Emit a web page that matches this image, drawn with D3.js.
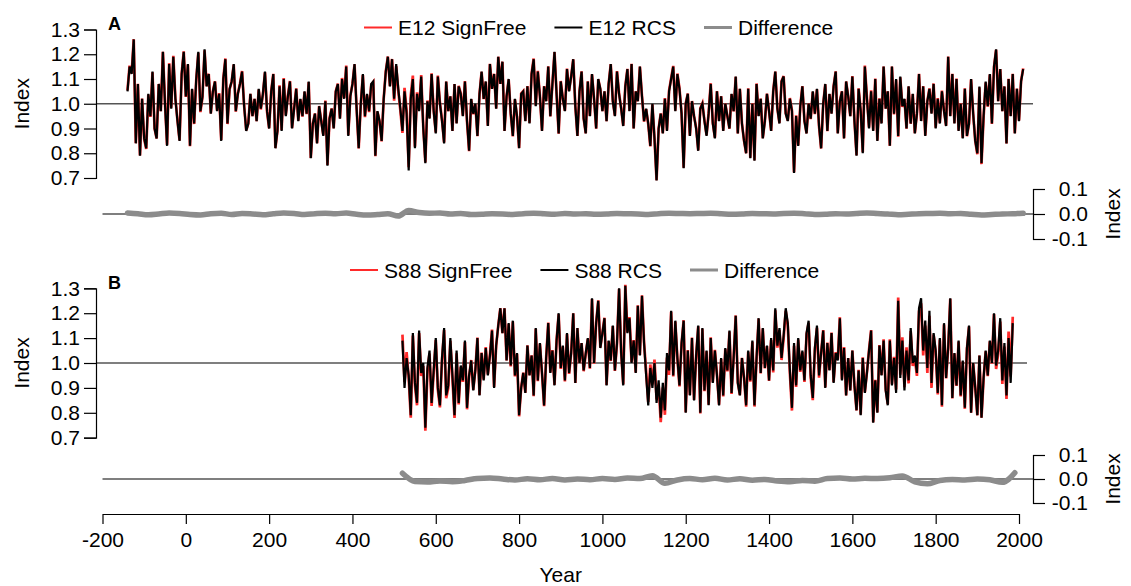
<!DOCTYPE html>
<html>
<head>
<meta charset="utf-8">
<script src="https://cdn.jsdelivr.net/npm/d3@7"></script>
<style>
  body { margin: 0; background: #fff; }
  text { font-family: "Liberation Sans", Arial, sans-serif; }
</style>
</head>
<body>
<div id="container"></div>
<script>
/* CONSTANTS AND GLOBALS */
const width = 1131;
const height = 586;
const fontSize = 21;

/* DATA */
// E12 RCS, every 5 years from -140 to 2010
const startA = -140;
const rcsA = [
  1.05,1.15,1.12,1.26,0.84,1.08,0.79,1.02,0.86,0.82,
  1.04,0.95,1.13,0.90,0.86,1.08,0.97,1.21,1.00,0.83,
  1.16,0.98,1.19,1.02,0.93,0.85,1.12,1.21,1.03,1.16,
  0.83,1.06,0.92,1.10,1.21,0.97,1.03,1.22,1.07,1.12,
  0.96,1.05,1.09,0.97,1.04,0.85,1.10,1.18,0.92,1.06,
  1.09,1.16,0.97,1.04,1.08,1.13,0.99,0.89,0.92,1.04,
  0.95,1.02,0.93,1.06,0.98,1.04,1.13,0.97,0.90,1.05,
  1.12,0.82,0.89,1.07,0.89,1.10,0.95,1.03,1.09,0.90,
  0.98,1.06,0.93,1.02,0.95,1.05,0.96,1.09,0.78,0.92,
  0.96,0.84,0.99,0.93,0.87,1.01,0.75,0.94,0.98,0.90,
  1.05,1.08,0.94,1.10,1.02,1.15,0.87,1.03,1.08,1.16,
  0.98,0.82,1.00,1.12,0.95,1.04,0.97,1.08,1.09,0.79,
  0.97,0.93,0.85,1.02,1.13,1.19,1.07,1.18,1.02,1.16,
  1.06,0.98,0.89,1.05,0.96,0.73,1.02,1.10,0.82,1.04,
  0.97,1.11,0.90,0.76,1.01,0.94,1.12,0.97,0.88,1.11,
  1.00,0.93,0.84,1.09,0.97,1.03,0.89,1.08,0.92,1.07,
  1.04,0.95,1.09,0.93,0.81,1.02,0.96,1.00,0.87,1.04,
  1.13,1.02,1.09,0.91,1.16,1.06,1.12,0.98,1.19,1.08,
  1.17,0.89,1.03,1.10,0.96,0.87,1.02,0.95,0.82,1.04,
  1.05,0.93,1.07,0.92,1.12,1.18,0.99,1.13,1.03,0.89,
  1.07,1.01,1.15,0.95,1.08,1.21,1.04,0.88,1.09,1.02,
  0.97,1.14,1.05,1.11,1.18,0.99,0.87,1.05,1.13,0.94,
  0.88,1.09,0.95,1.12,1.02,0.90,1.10,1.06,0.97,1.05,
  0.93,1.08,1.16,1.01,0.95,1.13,1.04,0.98,0.91,1.07,
  1.14,0.97,1.16,0.90,1.05,1.01,1.15,1.03,0.93,0.98,
  0.92,0.83,1.00,0.86,0.69,0.90,0.96,0.88,1.02,0.89,
  1.05,1.10,1.15,0.97,1.12,1.06,0.96,0.74,1.00,1.04,
  0.87,1.01,0.95,0.90,0.81,0.98,1.00,0.93,0.87,0.96,
  1.08,0.92,0.86,1.05,0.93,1.03,0.89,1.00,0.95,0.90,
  1.04,0.97,1.11,0.88,1.06,0.92,0.85,0.80,1.06,0.78,
  1.00,0.77,1.08,0.95,1.02,0.86,0.93,1.04,0.97,0.89,
  1.05,1.13,0.98,0.92,1.09,1.11,0.96,0.93,1.02,0.97,
  0.72,0.95,0.83,0.99,1.07,0.93,0.88,1.00,0.94,1.05,
  0.96,1.06,0.91,0.82,1.00,1.08,0.89,1.04,0.96,1.07,
  1.13,0.88,1.01,1.05,0.86,1.09,1.03,0.95,1.11,0.93,
  0.79,1.06,0.97,0.80,1.15,1.02,0.90,1.05,0.89,1.10,
  0.85,1.02,0.92,1.15,0.98,1.05,0.83,1.15,0.96,1.10,
  0.87,1.11,0.99,1.02,0.90,1.07,0.92,1.04,0.88,0.96,
  1.12,0.93,1.07,0.87,1.01,1.06,0.96,1.08,0.90,1.02,
  0.92,1.05,0.97,0.91,1.19,0.95,1.12,0.92,1.10,0.89,
  1.00,0.86,1.06,0.87,0.92,1.10,0.96,0.85,0.80,1.07,
  0.76,0.95,1.09,0.99,1.12,0.92,1.15,1.22,1.01,1.14,
  0.97,1.07,0.84,1.10,0.95,1.12,0.88,1.06,0.93,1.09,
  1.14
];

// S88 RCS, every 5 years from 520 to 1985
const startB = 520;
const rcsB = [
  1.09,0.90,1.02,0.95,0.79,1.12,0.92,0.84,1.13,0.96,
  1.00,0.74,0.98,1.05,0.84,0.97,1.10,0.90,0.83,1.02,
  1.14,0.87,0.91,1.10,0.95,0.79,1.05,0.84,0.99,0.93,
  1.09,0.82,0.95,1.01,0.89,0.97,1.10,0.87,1.04,0.93,
  1.06,0.95,1.03,1.13,0.90,1.07,1.15,1.22,1.12,1.22,
  1.01,1.16,0.99,1.17,0.95,1.04,0.79,0.90,0.96,0.88,
  1.07,0.95,1.03,0.87,1.14,0.93,1.08,0.96,0.83,1.02,
  1.16,0.96,1.05,0.91,1.09,1.20,0.98,1.07,0.93,1.12,
  0.96,1.04,1.20,0.92,1.14,1.00,1.08,0.97,1.04,1.10,
  0.98,1.26,1.00,1.16,1.25,1.06,1.12,1.18,0.91,1.09,
  1.01,1.15,0.97,1.08,1.30,1.04,0.91,1.31,1.12,1.18,
  1.00,1.09,0.96,1.23,1.03,1.27,1.08,0.95,0.83,0.98,
  0.90,1.00,0.84,0.93,0.78,0.92,0.81,1.04,0.97,1.21,
  0.95,1.17,1.02,0.91,1.08,1.17,0.80,1.05,0.87,1.10,
  0.85,1.03,1.15,0.80,1.14,0.89,1.05,0.83,1.10,0.92,
  1.05,0.95,0.83,1.02,0.87,1.06,0.97,1.13,0.88,1.02,
  1.19,0.92,0.87,1.02,0.94,0.83,1.05,0.93,1.09,0.83,
  1.02,1.18,0.96,1.14,0.98,1.07,0.93,1.10,0.97,1.22,
  1.07,1.14,1.02,1.11,1.22,1.16,0.97,0.82,1.08,0.91,
  1.10,0.97,1.05,0.93,1.12,1.17,0.95,0.86,1.06,1.15,
  0.95,1.04,1.13,0.90,1.08,0.97,1.12,0.92,1.04,1.01,
  1.18,0.93,1.06,0.87,1.02,0.89,1.05,0.91,0.81,0.97,
  0.79,1.02,0.88,0.96,1.05,1.13,0.76,0.93,0.80,1.07,
  0.95,1.09,0.89,0.83,1.09,0.91,1.02,0.88,1.25,0.94,
  1.09,0.89,1.05,0.93,1.14,1.00,1.03,0.96,1.22,1.26,
  1.05,1.17,0.98,1.21,0.92,1.12,1.05,0.88,1.10,0.83,
  1.16,0.94,1.06,1.26,0.86,1.04,0.91,1.09,0.87,1.01,
  0.82,1.06,1.15,0.80,1.00,0.90,0.79,1.03,0.78,0.94,
  1.05,0.95,1.09,1.00,1.20,0.99,1.05,1.18,0.93,1.08,
  0.87,1.10,0.92,1.16
];

// Difference (SignFree - RCS), E12 every 25 years from -140, S88 every 30 years from 520
const diffStartA = -140;
const diffA = [
  0.004,0.001,-0.003,0.000,0.004,0.002,-0.002,-0.004,0.001,0.003,
  -0.002,0.002,0.000,-0.003,0.001,0.004,0.002,-0.002,0.001,0.003,
  0.001,0.004,-0.001,-0.004,-0.002,0.001,-0.008,0.014,0.006,0.003,
  0.004,0.000,0.002,-0.002,-0.001,0.001,0.000,-0.002,0.001,0.003,
  0.001,-0.001,0.002,0.000,0.001,-0.001,0.000,0.002,0.001,0.000,
  -0.002,0.001,0.003,0.002,0.001,0.002,0.003,0.001,-0.001,0.000,
  0.002,0.001,0.000,0.002,0.003,0.001,-0.002,-0.001,0.001,0.000,
  0.002,0.004,0.002,0.000,-0.003,-0.001,0.001,0.002,0.003,0.001,
  0.002,-0.001,-0.004,-0.002,0.000,0.001,0.003
];
const diffStartB = 520;
const diffB = [
  0.024,-0.010,-0.012,-0.008,-0.011,-0.006,0.002,0.004,0.000,-0.004,
  0.001,-0.003,0.002,-0.004,0.000,-0.003,0.002,-0.002,0.004,0.002,
  0.014,-0.018,-0.004,0.002,-0.003,0.003,-0.004,0.001,-0.005,-0.002,
  -0.008,-0.011,-0.006,-0.009,0.002,0.004,0.000,0.003,0.002,0.005,
  0.013,-0.012,-0.020,-0.006,-0.002,-0.004,0.000,-0.003,-0.014,0.026
];

const yearTicks = [-200, 0, 200, 400, 600, 800, 1000, 1200, 1400, 1600, 1800, 2000];
const indexTicks = [0.7, 0.8, 0.9, 1.0, 1.1, 1.2, 1.3];
const diffTicks = [-0.1, 0.0, 0.1];

const panels = [
  { label: "A", name: "E12", start: startA, rcs: rcsA, step: 5, dStart: diffStartA, diff: diffA, dStep: 25,
    top: 29.5, bottom: 178, dTop: 189, dBottom: 239, legendY: 27.5, legendX: 364, refEnd: 1033, refColor: "#555", refWidth: 1.6 },
  { label: "B", name: "S88", start: startB, rcs: rcsB, step: 5, dStart: diffStartB, diff: diffB, dStep: 30,
    top: 288.3, bottom: 437.7, dTop: 455, dBottom: 503, legendY: 270, legendX: 350, refEnd: 1027, refColor: "#000", refWidth: 1.2 }
];

/* SVG */
const svg = d3.select("#container")
  .append("svg")
  .attr("width", width)
  .attr("height", height);

const xScale = d3.scaleLinear()
  .domain([-200, 2000])
  .range([102.5, 1019]);

const axisX = 96;
const rightX = 1033;

panels.forEach(p => {
  const yScale = d3.scaleLinear().domain([0.7, 1.3]).range([p.bottom, p.top]);
  const dScale = d3.scaleLinear().domain([-0.1, 0.1]).range([p.dBottom, p.dTop]);

  const rcs = p.rcs.map((v, i) => ({ year: p.start + i * p.step, value: v }));
  const diff = p.diff.map((v, i) => ({ year: p.dStart + i * p.dStep, value: v }));
  // SignFree = RCS + difference (nearest difference value)
  const signFree = rcs.map(d => {
    const k = Math.max(0, Math.min(diff.length - 1, Math.round((d.year - p.dStart) / p.dStep)));
    return { year: d.year, value: d.value + diff[k].value };
  });

  const g = svg.append("g");

  // reference lines
  g.append("line")
    .attr("x1", axisX).attr("x2", p.refEnd)
    .attr("y1", yScale(1)).attr("y2", yScale(1))
    .attr("stroke", p.refColor).attr("stroke-width", p.refWidth);
  g.append("line")
    .attr("x1", xScale(-200)).attr("x2", rightX)
    .attr("y1", dScale(0)).attr("y2", dScale(0))
    .attr("stroke", "#000").attr("stroke-width", 1.2);

  const line = d3.line().x(d => xScale(d.year)).y(d => yScale(d.value));
  g.append("path")
    .datum(signFree)
    .attr("d", line)
    .attr("fill", "none")
    .attr("stroke", "#ff2a2a")
    .attr("stroke-width", 2.7);
  g.append("path")
    .datum(rcs)
    .attr("d", line)
    .attr("fill", "none")
    .attr("stroke", "#000")
    .attr("stroke-width", 2.2);

  const dLine = d3.line().x(d => xScale(d.year)).y(d => dScale(d.value)).curve(d3.curveMonotoneX);
  g.append("path")
    .datum(diff)
    .attr("d", dLine)
    .attr("fill", "none")
    .attr("stroke", "#8c8c8c")
    .attr("stroke-width", 5.5)
    .attr("stroke-linecap", "round");

  // left axis
  const yAxis = d3.axisLeft(yScale)
    .tickValues(indexTicks)
    .tickSize(12)
    .tickPadding(4)
    .tickFormat(d => d.toFixed(1));
  const ya = g.append("g")
    .attr("transform", `translate(${axisX},0)`)
    .call(yAxis);

  // right axis
  const dAxis = d3.axisRight(dScale)
    .tickValues(diffTicks)
    .tickSize(12)
    .tickPadding(4)
    .tickFormat(d => d.toFixed(1));
  const da = g.append("g")
    .attr("transform", `translate(${rightX},0)`)
    .call(dAxis);
  da.selectAll("text").attr("text-anchor", "end").attr("x", 55);

  [ya, da].forEach(a => {
    a.selectAll("text").attr("font-size", fontSize).attr("font-family", "Liberation Sans, Arial, sans-serif").attr("fill", "#000");
    a.selectAll("path, line").attr("stroke", "#000").attr("stroke-width", 1.2);
  });

  g.append("text")
    .attr("transform", `translate(29,${yScale(1)}) rotate(-90)`)
    .attr("text-anchor", "middle")
    .attr("font-size", fontSize)
    .text("Index");
  g.append("text")
    .attr("transform", `translate(1120,${dScale(0)}) rotate(-90)`)
    .attr("text-anchor", "middle")
    .attr("font-size", fontSize)
    .text("Index");

  g.append("text")
    .attr("x", 108).attr("y", p.top + 0.5)
    .attr("font-size", 18)
    .attr("font-weight", "bold")
    .text(p.label);

  // legend
  const items = [
    { text: p.name + " SignFree", color: "#ff2a2a", w: 2 },
    { text: p.name + " RCS", color: "#000", w: 2 },
    { text: "Difference", color: "#8c8c8c", w: 3 }
  ];
  let lx = p.legendX;
  items.forEach(it => {
    g.append("line")
      .attr("x1", lx).attr("x2", lx + 28)
      .attr("y1", p.legendY).attr("y2", p.legendY)
      .attr("stroke", it.color).attr("stroke-width", it.w);
    const t = g.append("text")
      .attr("x", lx + 34).attr("y", p.legendY + 7.5)
      .attr("font-size", fontSize)
      .text(it.text);
    lx += 34 + t.node().getComputedTextLength() + 28;
  });
});

// bottom axis
const xAxis = d3.axisBottom(xScale)
  .tickValues(yearTicks)
  .tickSize(10)
  .tickSizeOuter(0)
  .tickPadding(8)
  .tickFormat(d => String(d));
const xa = svg.append("g")
  .attr("transform", "translate(0,514)")
  .call(xAxis);
xa.selectAll("text").attr("font-size", fontSize).attr("font-family", "Liberation Sans, Arial, sans-serif").attr("fill", "#000");
xa.selectAll("path, line").attr("stroke", "#000").attr("stroke-width", 1.2);

svg.append("text")
  .attr("x", xScale(900)).attr("y", 582)
  .attr("text-anchor", "middle")
  .attr("font-size", fontSize)
  .text("Year");
</script>
</body>
</html>
